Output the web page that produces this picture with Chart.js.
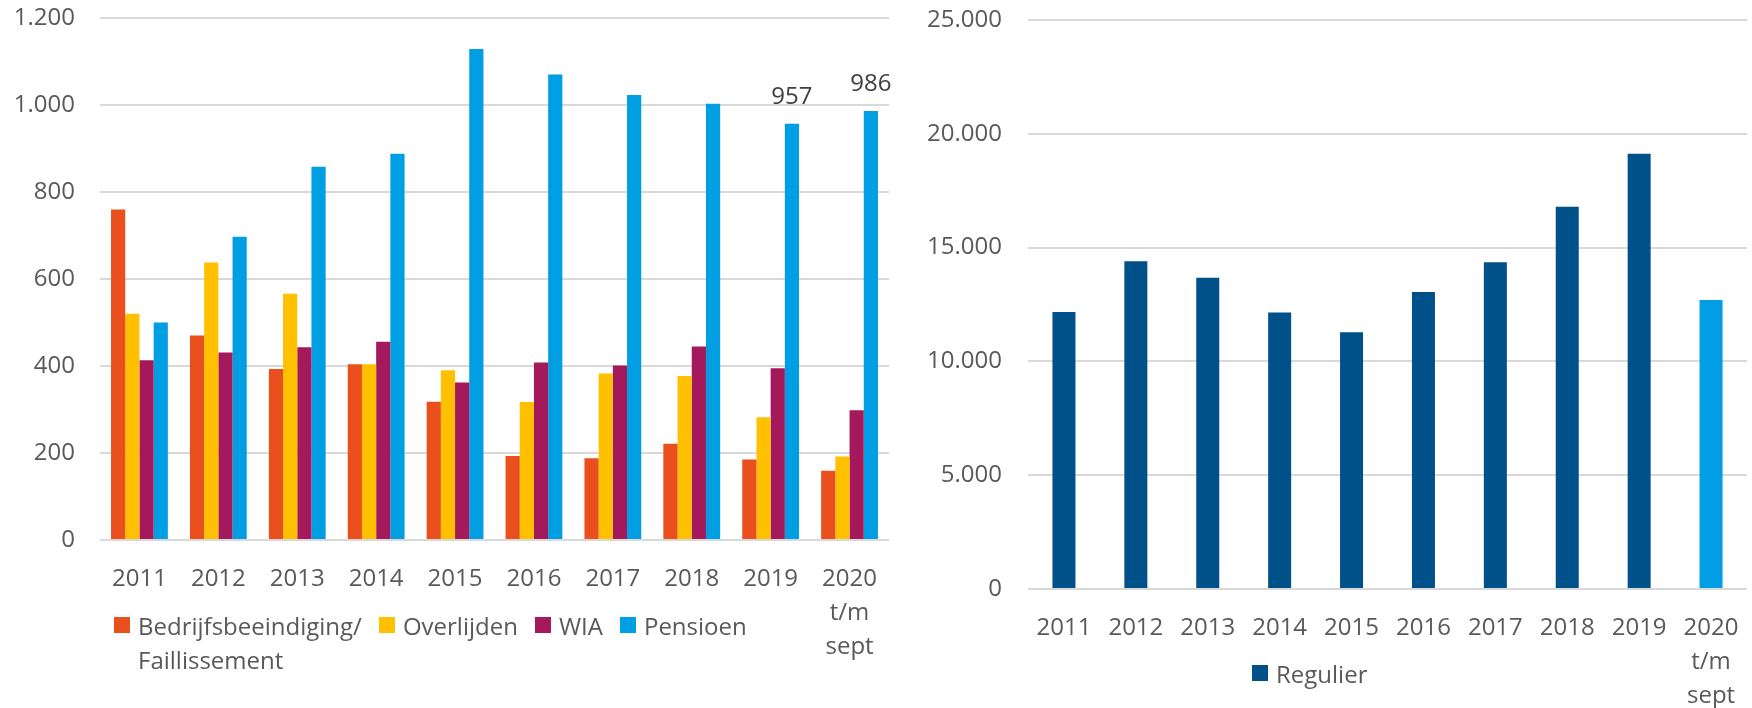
<!DOCTYPE html>
<html lang="nl">
<head>
<meta charset="utf-8">
<title>Uitstroom per jaar</title>
<script src="https://cdn.jsdelivr.net/npm/chart.js@4"></script>
<style>
  body { margin: 0; width: 1752px; height: 708px; overflow: hidden; background: #fff;
         font-family: 'Open Sans', sans-serif; color: #595959; position: relative; }
  #links { position: absolute; left: 0; top: 0; }
  #rechts { position: absolute; left: 900px; top: 0; }
  .legenda { position: absolute; display: flex; align-items: flex-start; font-size: 24px; line-height: 34px; white-space: nowrap; }
  .item { display: flex; align-items: flex-start; margin-right: 17px; }
  .blok { width: 16px; height: 16px; margin-top: 8px; margin-right: 8px; flex: none; }
</style>
</head>
<body>
<canvas id="links" width="900" height="708"></canvas>
<canvas id="rechts" width="852" height="708"></canvas>
<div class="legenda" id="legLinks" style="left:114px; top:609px;"></div>
<div class="legenda" id="legRechts" style="left:1252px; top:657px;"></div>

<script>
// categorieen (laatste jaar loopt t/m september)
const jaren = ['2011', '2012', '2013', '2014', '2015', '2016', '2017', '2018', '2019', ['2020', 't/m', 'sept']];

// linker grafiek: reden van uitstroom
const bedrijfsbeeindiging = [760, 470, 393, 404, 318, 193, 188, 221, 185, 159];
const overlijden = [520, 638, 566, 404, 390, 317, 383, 377, 282, 192];
const wia = [413, 431, 443, 456, 362, 408, 401, 445, 395, 298];
const pensioen = [500, 697, 858, 888, 1129, 1070, 1023, 1003, 957, 986];
const pensioenLabels = [8, 9]; // alleen deze staven krijgen een waarde erboven

// rechter grafiek
const regulier = [12170, 14400, 13670, 12150, 11280, 13050, 14360, 16790, 19120, 12700];

const ticksLinks = [0, 200, 400, 600, 800, 1000, 1200];
const ticksRechts = [0, 5000, 10000, 15000, 20000, 25000];

const kleuren = {
    oranje: '#E9501E',
    geel: '#FFC000',
    paars: '#A3195B',
    blauw: '#009FE3',
    donkerblauw: '#005189'
};

Chart.defaults.font.family = "'Open Sans', sans-serif";
Chart.defaults.font.size = 24;
Chart.defaults.color = '#595959';

// punt als duizendtal-scheiding
function fmt(v) {
    return String(v).replace(/\B(?=(\d{3})+(?!\d))/g, '.');
}

const waardeLabels = {
    id: 'waardeLabels',
    afterDatasetsDraw(chart) {
        const ctx = chart.ctx;
        chart.data.datasets.forEach((ds, i) => {
            if (!ds.toonLabels) return;
            const meta = chart.getDatasetMeta(i);
            ds.toonLabels.forEach(idx => {
                const bar = meta.data[idx];
                ctx.save();
                ctx.font = "24px 'Open Sans'";
                ctx.fillStyle = '#404040';
                ctx.textAlign = 'center';
                ctx.textBaseline = 'middle';
                ctx.fillText(fmt(ds.data[idx]), bar.x, bar.y - 27);
                ctx.restore();
            });
        });
    }
};

function assen(ticks, yBreedte, yPadding, xHoogte) {
    return {
        x: {
            grid: { display: false },
            border: { display: false },
            ticks: { padding: 14, maxRotation: 0, autoSkip: false, font: { lineHeight: 1.42 } },
            afterFit: s => { s.height = xHoogte; s.paddingLeft = 0; s.paddingRight = 0; }
        },
        y: {
            min: ticks[0],
            max: ticks[ticks.length - 1],
            grid: { color: '#D9D9D9', lineWidth: 2, drawTicks: false },
            border: { display: false },
            ticks: { padding: yPadding, callback: v => fmt(v) },
            afterBuildTicks: s => { s.ticks = ticks.map(v => ({ value: v })); },
            afterFit: s => { s.width = yBreedte; s.paddingTop = 0; s.paddingBottom = 0; }
        }
    };
}

const linkerSeries = [
    { label: ['Bedrijfsbeeindiging/', 'Faillissement'], data: bedrijfsbeeindiging, backgroundColor: kleuren.oranje },
    { label: 'Overlijden', data: overlijden, backgroundColor: kleuren.geel },
    { label: 'WIA', data: wia, backgroundColor: kleuren.paars },
    { label: 'Pensioen', data: pensioen, backgroundColor: kleuren.blauw, toonLabels: pensioenLabels }
];

new Chart(document.getElementById('links'), {
    type: 'bar',
    data: {
        labels: jaren,
        datasets: linkerSeries.map(s => Object.assign({ categoryPercentage: 0.72, barPercentage: 1 }, s))
    },
    options: {
        responsive: false,
        animation: false,
        layout: { padding: { top: 18, right: 11, left: 0, bottom: 0 } },
        plugins: { legend: { display: false }, tooltip: { enabled: false } },
        scales: assen(ticksLinks, 100, 25, 168)
    },
    plugins: [waardeLabels]
});

new Chart(document.getElementById('rechts'), {
    type: 'bar',
    data: {
        labels: jaren,
        datasets: [{
            label: 'Regulier',
            data: regulier,
            // lopend jaar lichter
            backgroundColor: regulier.map((v, i) => i === regulier.length - 1 ? kleuren.blauw : kleuren.donkerblauw),
            categoryPercentage: 0.32,
            barPercentage: 1
        }]
    },
    options: {
        responsive: false,
        animation: false,
        layout: { padding: { top: 20, right: 5, left: 0, bottom: 0 } },
        plugins: { legend: { display: false }, tooltip: { enabled: false } },
        scales: assen(ticksRechts, 128, 26, 119)
    }
});

function maakLegenda(id, items) {
    const el = document.getElementById(id);
    items.forEach(it => {
        const div = document.createElement('div');
        div.className = 'item';
        const tekst = Array.isArray(it.label) ? it.label.join('<br>') : it.label;
        div.innerHTML = '<span class="blok" style="background:' + it.kleur + '"></span><span>' + tekst + '</span>';
        el.appendChild(div);
    });
}

maakLegenda('legLinks', linkerSeries.map(s => ({ label: s.label, kleur: s.backgroundColor })));
maakLegenda('legRechts', [{ label: 'Regulier', kleur: kleuren.donkerblauw }]);
</script>
</body>
</html>
